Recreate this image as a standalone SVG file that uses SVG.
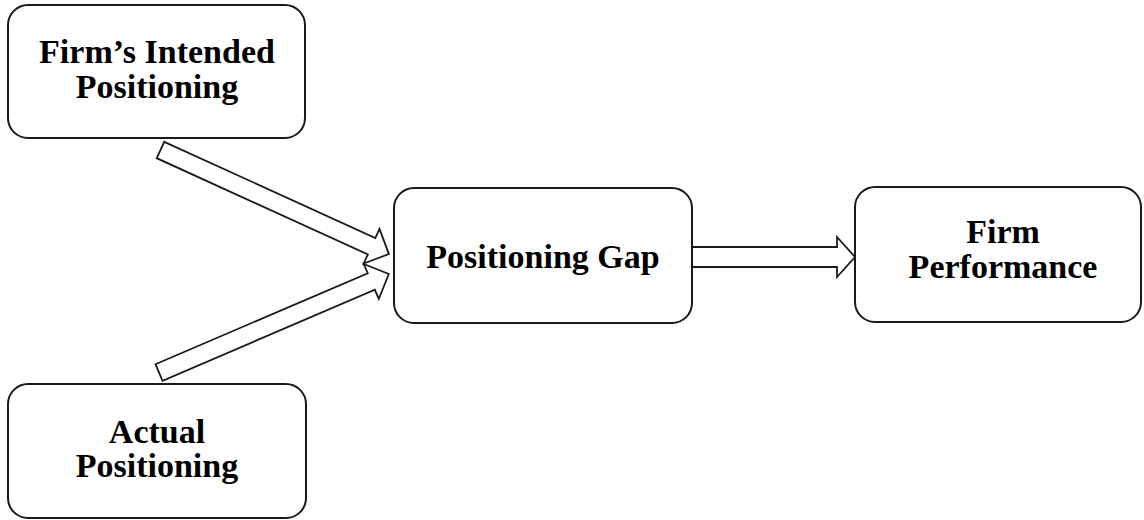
<svg xmlns="http://www.w3.org/2000/svg" width="1144" height="520" viewBox="0 0 1144 520">
  <style>
    .box { fill: #ffffff; stroke: #1a1a1a; stroke-width: 2; }
    .arrow { fill: #ffffff; stroke: #1a1a1a; stroke-width: 1.8; stroke-linejoin: miter; }
    .label { font-family: "Liberation Serif", "Times New Roman", serif; font-weight: bold; font-size: 34px; fill: #000000; text-anchor: middle; }
  </style>
  <rect x="0" y="0" width="1144" height="520" fill="#ffffff"/>
  <g id="connectors">
    <path class="arrow" transform="translate(160.5,150) rotate(24.5)" d="M0,-9 L232,-9 L232,-19 L251,0 L232,19 L232,9 L0,9 Z"/>
    <path class="arrow" transform="translate(159,372.5) rotate(-23.2)" d="M0,-9 L231,-9 L231,-19 L250,0 L231,19 L231,9 L0,9 Z"/>
    <path class="arrow" d="M692,247 L837,247 L837,237 L855,257 L837,277 L837,267 L692,267 Z"/>
  </g>
  <g id="node-intended">
    <rect class="box" x="8" y="5" width="297" height="133" rx="20" ry="20"/>
    <text class="label" x="157" y="63">Firm’s Intended</text>
    <text class="label" x="157" y="97.5">Positioning</text>
  </g>
  <g id="node-actual">
    <rect class="box" x="8" y="384" width="298" height="134" rx="20" ry="20"/>
    <text class="label" x="157" y="442.5">Actual</text>
    <text class="label" x="157" y="477">Positioning</text>
  </g>
  <g id="node-gap">
    <rect class="box" x="394" y="188" width="298" height="135" rx="20" ry="20"/>
    <text class="label" x="543" y="268">Positioning Gap</text>
  </g>
  <g id="node-performance">
    <rect class="box" x="855" y="187" width="286" height="135" rx="20" ry="20"/>
    <text class="label" x="1003" y="243">Firm</text>
    <text class="label" x="1003" y="277.5">Performance</text>
  </g>
</svg>
